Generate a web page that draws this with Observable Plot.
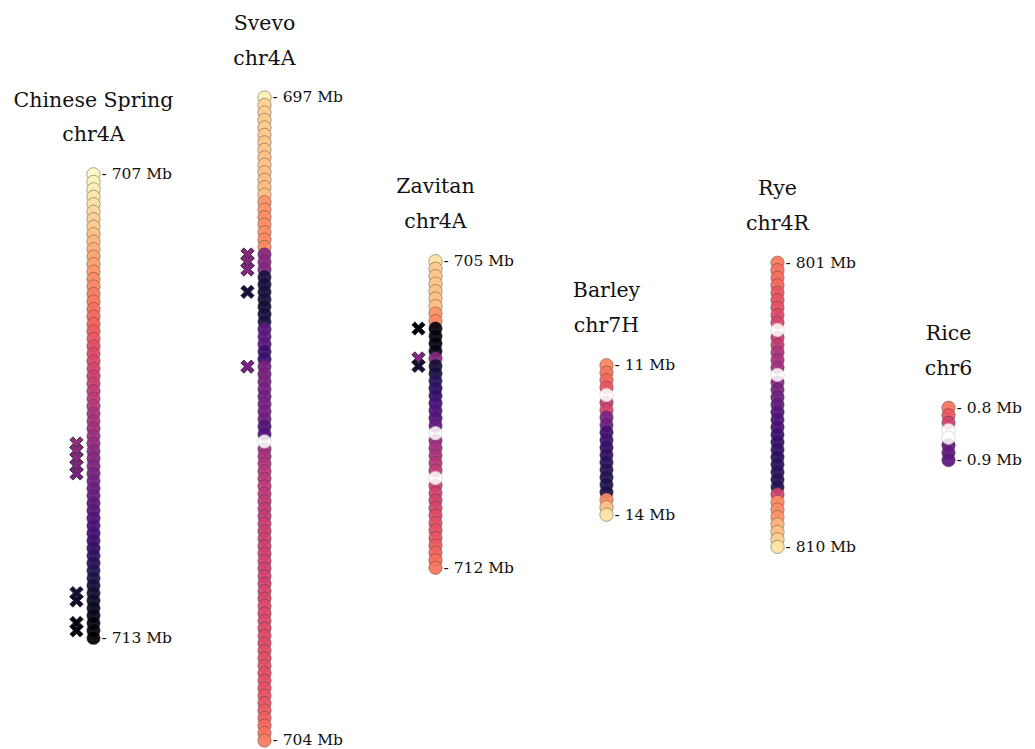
<!DOCTYPE html>
<html><head><meta charset="utf-8">
<script src="https://cdn.jsdelivr.net/npm/d3@7"></script>
<script src="https://cdn.jsdelivr.net/npm/@observablehq/plot@0.6"></script>
<style>body{margin:0;background:#fff} #chart svg{display:block}</style>
</head><body><div id="chart"></div>
<script>
const genomes = ["Chinese Spring", "Svevo", "Zavitan", "Barley", "Rye", "Rice"];
const titles = ["Chinese Spring\nchr4A", "Svevo\nchr4A", "Zavitan\nchr4A", "Barley\nchr7H", "Rye\nchr4R", "Rice\nchr6"];
const offsets = [10.28, 0, 21.9, 35.8, 22.1, 41.5];
const topLabels = ["707 Mb", "697 Mb", "705 Mb", "11 Mb", "801 Mb", "0.8 Mb"];
const bottomLabels = ["713 Mb", "704 Mb", "712 Mb", "14 Mb", "810 Mb", "0.9 Mb"];

// magma colour value of each gene, top to bottom; null = gene without match (white)
const csColors = [1.00,0.98,0.97,0.95,0.94,0.92,0.90,0.89,0.87,0.85,0.83,0.81,0.80,0.78,0.76,0.75,0.73,0.72,0.70,0.68,0.67,0.65,0.64,0.62,0.60,0.59,0.58,0.56,0.55,0.53,0.52,0.50,0.48,0.47,0.45,0.44,0.42,0.40,0.39,0.37,0.35,0.34,0.32,0.31,0.29,0.27,0.26,0.24,0.23,0.21,0.19,0.18,0.16,0.15,0.13,0.11,0.10,0.08,0.06,0.05,0.03,0.02,0.00];
const svevoColors = [0.97,0.91,0.90,0.89,0.89,0.88,0.88,0.88,0.87,0.87,0.87,0.86,0.86,0.86,
  0.77,0.77,0.76,0.76,0.76,0.75,0.75,
  0.39,0.39,0.38,
  0.12,0.11,0.11,0.12,0.10,0.11,0.12,
  0.28,0.29,0.28,0.20,0.20,
  0.34,0.34,0.35,0.34,0.33,0.34,0.34,0.33,
  0.26,0.25,
  null,
  0.45,0.46,0.48,
  0.50,0.51,0.52,0.52,0.53,0.53,0.53,
  0.55,0.55,0.56,0.56,0.56,0.57,0.57,0.57,0.57,0.58,
  0.58,0.59,0.59,0.59,0.60,0.60,0.60,0.61,0.61,0.61,0.62,0.62,0.62,0.63,0.63,
  0.65,0.66,0.68,0.70,0.73];
const zavitanColors = [0.94,0.89,0.88,0.88,0.87,0.87,0.86,
  0.77,0.75,
  0.02,0.03,0.03,0.04,
  0.38,
  0.10,0.11,
  0.16,0.17,0.18,
  0.23,0.25,0.26,
  0.30,
  null,
  0.42,0.46,0.48,0.50,0.52,
  null,
  0.56,0.57,0.57,0.58,
  0.60,0.61,0.62,0.63,
  0.65,0.67,0.69,0.71];
const barleyColors = [0.74,0.71,0.68,0.63,null,0.55,0.58,0.36,0.32,0.22,0.21,0.19,0.18,0.17,0.16,0.15,0.14,0.13,0.76,0.87,0.94];
const ryeColors = [0.72,0.70,0.69,0.68,0.64,0.63,0.62,0.60,0.58,null,0.54,0.53,0.49,0.47,0.45,null,0.40,0.35,0.33,0.30,0.27,0.25,0.24,
  0.20,0.19,0.18,0.17,0.17,0.16,0.16,0.15,0.57,0.76,0.76,0.77,0.84,0.87,0.90,0.94];
const riceColors = [0.71,0.64,0.57,null,null,0.30,0.30,0.28];
// rows (within each chromosome) of genes marked with a cross
const csCross = [36,37,38,39,40,56,57,60,61];
const svevoCross = [21,22,23,26,36];
const zavitanCross = [9,13,14];

const series = [csColors, svevoColors, zavitanColors, barleyColors, ryeColors, riceColors];
const crosses = [csCross, svevoCross, zavitanCross, [], [], []];

const genes = series.flatMap((vals, g) => vals.map((t, i) => ({genome: genomes[g], slot: offsets[g] + i, t, row: i, g})));
const colored = genes.filter(d => d.t !== null);
const blanks = genes.filter(d => d.t === null);
const crossed = genes.filter(d => crosses[d.g].includes(d.row));
const ends = genomes.map((genome, k) => ({genome, title: titles[k], top: offsets[k], bottom: offsets[k] + series[k].length - 1, topLabel: "- " + topLabels[k], bottomLabel: "- " + bottomLabels[k]}));

const bigX = {
  draw(ctx, size) {
    const r = Math.sqrt(size / Math.PI), s = r * 1.12, w = r * 0.33;
    const pts = [[w,-s],[w,-w],[s,-w],[s,w],[w,w],[w,s],[-w,s],[-w,w],[-s,w],[-s,-w],[-w,-w],[-w,-s]]
      .map(([x, y]) => [(x - y) / Math.SQRT2, (x + y) / Math.SQRT2]);
    ctx.moveTo(pts[0][0], pts[0][1]);
    for (let i = 1; i < pts.length; i++) ctx.lineTo(pts[i][0], pts[i][1]);
    ctx.closePath();
  }
};

const font = "DejaVu Serif";
const chart = Plot.plot({
  width: 1035, height: 749,
  marginTop: 97, marginBottom: 9, marginLeft: 92, marginRight: 86,
  x: {type: "point", domain: genomes, padding: 0, axis: null},
  y: {domain: [0, 86], reverse: true, axis: null},
  color: {type: "linear", scheme: "magma", domain: [0, 1]},
  marks: [
    Plot.dot(colored, {x: "genome", y: "slot", r: 6.7, fill: "t", fillOpacity: 0.93, stroke: "#333", strokeWidth: 0.6, strokeOpacity: 0.7}),
    Plot.dot(blanks, {x: "genome", y: "slot", r: 6.7, fill: "white", fillOpacity: 0.85, stroke: "#c8c8c8", strokeWidth: 0.6}),
    Plot.dot(crossed, {x: "genome", y: "slot", dx: -17, r: 6.5, symbol: bigX, fill: "t", stroke: "#222", strokeWidth: 0.8}),
    Plot.text(ends, {x: "genome", y: "top", text: "topLabel", dx: 8, textAnchor: "start", fontSize: 15.5, fontFamily: font, fill: "#111"}),
    Plot.text(ends, {x: "genome", y: "bottom", text: "bottomLabel", dx: 8, textAnchor: "start", fontSize: 15.5, fontFamily: font, fill: "#111"}),
    Plot.text(ends, {x: "genome", y: "top", text: "title", dy: -33, lineAnchor: "bottom", lineHeight: 1.7, fontSize: 20.5, fontFamily: font, fill: "#111"})
  ]
});
document.getElementById("chart").append(chart);
</script>
</body></html>
